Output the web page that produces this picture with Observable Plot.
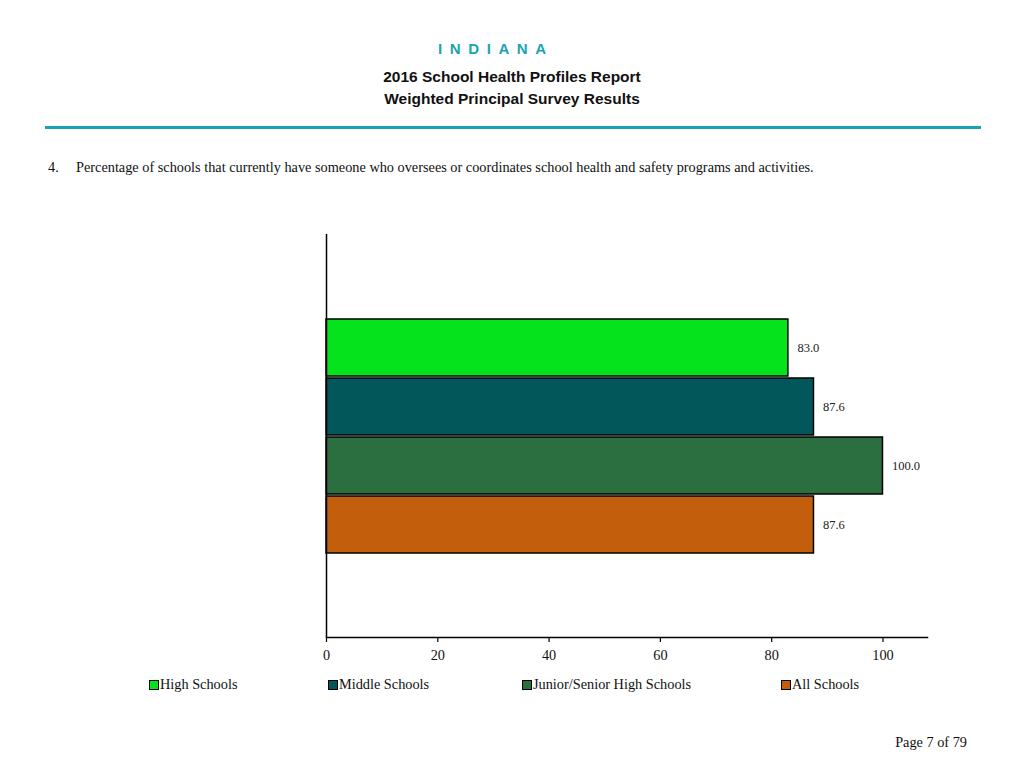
<!DOCTYPE html>
<html><head><meta charset="utf-8">
<script src="https://cdn.jsdelivr.net/npm/d3@7"></script>
<script src="https://cdn.jsdelivr.net/npm/@observablehq/plot@0.6"></script>
<style>
html,body{margin:0;padding:0;background:#fff}
body{width:1024px;height:768px;position:relative;overflow:hidden;font-family:"Liberation Serif","Times New Roman",serif;color:#111}
.abs{position:absolute;white-space:nowrap}
#state{left:438px;top:40px;font-family:"Liberation Sans",Arial,sans-serif;font-weight:bold;font-size:15px;letter-spacing:7.6px;color:#1BA3B3}
.hdr{left:0;width:1024px;text-align:center;font-family:"Liberation Sans",Arial,sans-serif;font-weight:bold;font-size:15.5px;color:#111}
#rule{left:45px;width:936px;top:126px;height:3px;background:#1BA3B3}
.q{font-size:14.3px;top:159px}
#chart{left:0;top:200px}
.leg{top:676px;font-size:14.3px;display:flex;align-items:center}
.sw{width:8px;height:8px;border:1px solid #000;margin-right:1px}
#page{right:57px;top:734px;font-size:14.3px}
</style></head><body>
<div class="abs" id="state">INDIANA</div>
<div class="abs hdr" style="top:68px">2016 School Health Profiles Report</div>
<div class="abs hdr" style="top:90px">Weighted Principal Survey Results</div>
<div class="abs" id="rule"></div>
<div class="abs q" style="left:48px">4.</div>
<div class="abs q" style="left:76px">Percentage of schools that currently have someone who oversees or coordinates school health and safety programs and activities.</div>
<div class="abs" id="chart"></div>
<div id="legend"></div>
<div class="abs" id="page">Page 7 of 79</div>
<script>
const categories = ["High Schools", "Middle Schools", "Junior/Senior High Schools", "All Schools"];
const values = [83.0, 87.6, 100.0, 87.6];
const colors = ["#04E31B", "#02575A", "#2B6E3F", "#C35F0C"];
const xTicks = [0, 20, 40, 60, 80, 100];
const legendLeft = [149, 328, 522, 781];

const data = categories.map((c, i) => ({cat: c, value: values[i]}));

const chart = Plot.plot({
  width: 1024,
  height: 480,
  marginLeft: 326,
  marginRight: 97,
  marginTop: 34,
  marginBottom: 43,
  style: {fontFamily: "Liberation Serif, Times New Roman, serif", fontSize: "14px", color: "#111", background: "transparent"},
  x: {domain: [0, 108], label: null},
  y: {domain: categories, paddingInner: 0.035, paddingOuter: 1.43, axis: null},
  color: {domain: categories, range: colors},
  marks: [
    Plot.barX(data, {x: "value", y: "cat", fill: "cat", stroke: "#000", strokeWidth: 1.5}),
    Plot.text(data, {x: "value", y: "cat", text: d => d.value.toFixed(1), dx: 9, textAnchor: "start", fontSize: 12.5, fill: "#222"}),
    Plot.ruleX([0], {stroke: "#000", strokeWidth: 1.5}),
    Plot.frame({anchor: "bottom", stroke: "#000", strokeWidth: 1.5}),
    Plot.axisX({ticks: xTicks, tickFormat: d => String(d), tickSize: 5, tickPadding: 7, fontSize: 14.3, stroke: "#000", strokeWidth: 1.2, label: null})
  ]
});
document.getElementById("chart").appendChild(chart);

const legend = document.getElementById("legend");
categories.forEach((c, i) => {
  const item = document.createElement("div");
  item.className = "abs leg";
  item.style.left = legendLeft[i] + "px";
  const sw = document.createElement("span");
  sw.className = "sw";
  sw.style.background = colors[i];
  const t = document.createElement("span");
  t.textContent = c;
  item.appendChild(sw);
  item.appendChild(t);
  legend.appendChild(item);
});
</script>
</body></html>
